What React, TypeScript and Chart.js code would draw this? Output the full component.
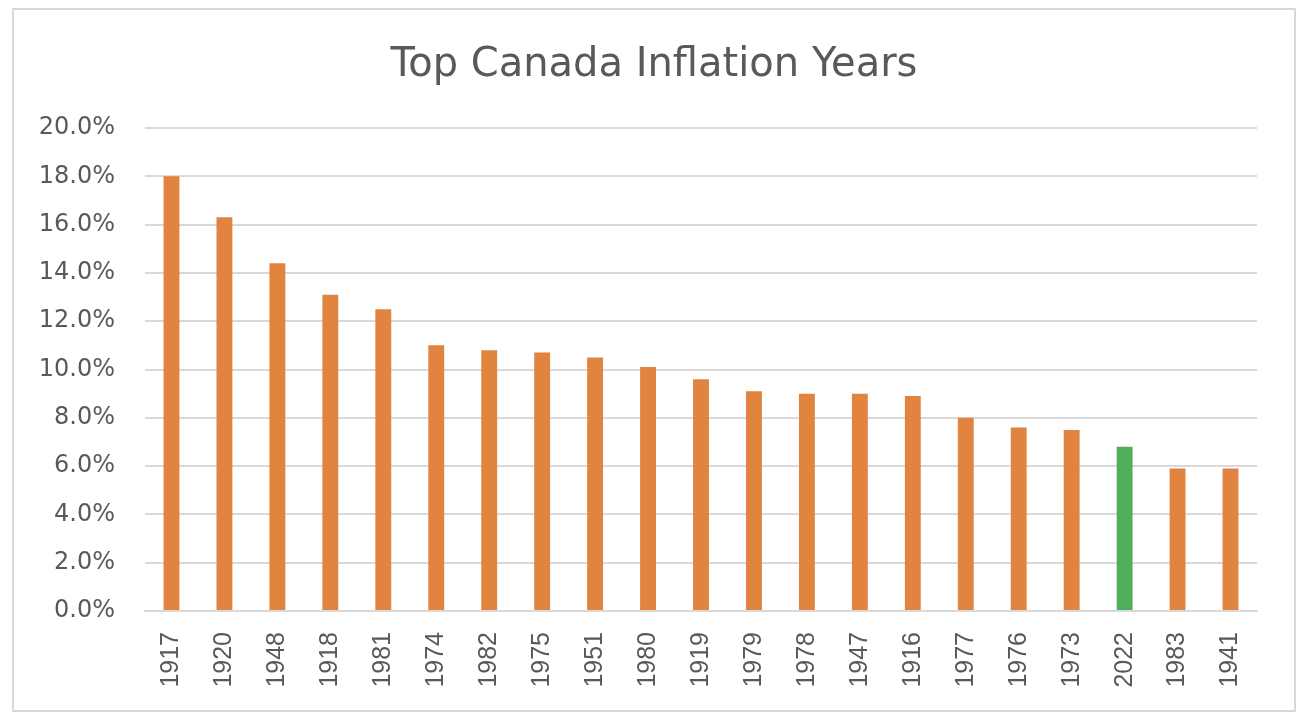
import React, { useEffect, useRef } from "react";
import { Chart, registerables } from "chart.js";

Chart.register(...registerables);

const categories = [
  "1917", "1920", "1948", "1918", "1981", "1974", "1982", "1975", "1951", "1980", "1919",
  "1979", "1978", "1947", "1916", "1977", "1976", "1973", "2022", "1983", "1941",
];
const inflationRates = [
  18.0, 16.3, 14.4, 13.1, 12.5, 11.0, 10.8, 10.7, 10.5, 10.1, 9.6,
  9.1, 9.0, 9.0, 8.9, 8.0, 7.6, 7.5, 6.8, 5.9, 5.9,
];
const highlightYear = "2022";
const chartTitle = "Top Canada Inflation Years";
const yMin = 0;
const yMax = 20;
const yStep = 2;

const ORANGE = "#E0843F";
const GREEN = "#52AE5B";
const TEXT = "#595959";
const GRID = "#D9D9D9";

const centeredTitle = {
  id: "centeredTitle",
  afterDraw(chart: any) {
    const ctx = chart.ctx;
    ctx.save();
    ctx.fillStyle = TEXT;
    ctx.font = "40px 'DejaVu Sans', sans-serif";
    ctx.textAlign = "center";
    ctx.textBaseline = "alphabetic";
    ctx.fillText(chartTitle, chart.width / 2, 66);
    ctx.restore();
  },
};

export default function App() {
  const ref = useRef<HTMLCanvasElement | null>(null);

  useEffect(() => {
    if (!ref.current) return;
    const colors = categories.map((c) => (c === highlightYear ? GREEN : ORANGE));
    const chart = new Chart(ref.current, {
      type: "bar",
      data: {
        labels: categories,
        datasets: [
          {
            label: "Inflation",
            data: inflationRates,
            backgroundColor: colors,
            borderWidth: 0,
            categoryPercentage: 1,
            barPercentage: 0.3,
          },
        ],
      },
      options: {
        responsive: false,
        animation: false,
        layout: { padding: { left: 0, right: 37, top: 118, bottom: 0 } },
        plugins: {
          legend: { display: false },
          tooltip: { enabled: false },
          title: { display: false },
        },
        scales: {
          x: {
            grid: { display: false, drawTicks: false },
            border: { display: true, color: GRID, width: 2 },
            ticks: {
              color: TEXT,
              maxRotation: 90,
              minRotation: 90,
              padding: 21,
              font: {
                family: "'Liberation Sans', Arial, sans-serif",
                size: 25,
              },
            },
            afterFit: (scale: any) => {
              scale.height = 99;
            },
          },
          y: {
            min: yMin,
            max: yMax,
            grid: { color: GRID, lineWidth: 2, drawTicks: false },
            border: { display: false },
            ticks: {
              stepSize: yStep,
              color: TEXT,
              padding: 30,
              font: { family: "'DejaVu Sans', sans-serif", size: 24 },
              callback: (v: any) => Number(v).toFixed(1) + "%",
            },
            afterFit: (scale: any) => {
              scale.width = 131;
            },
          },
        },
      },
      plugins: [centeredTitle],
    });
    return () => chart.destroy();
  }, []);

  return (
    <div
      style={{
        position: "absolute",
        left: 12,
        top: 8,
        width: 1284,
        height: 704,
        boxSizing: "border-box",
        border: "2px solid #D9D9D9",
        background: "#FFFFFF",
      }}
    >
      <canvas ref={ref} width={1280} height={700} style={{ display: "block" }} />
    </div>
  );
}
